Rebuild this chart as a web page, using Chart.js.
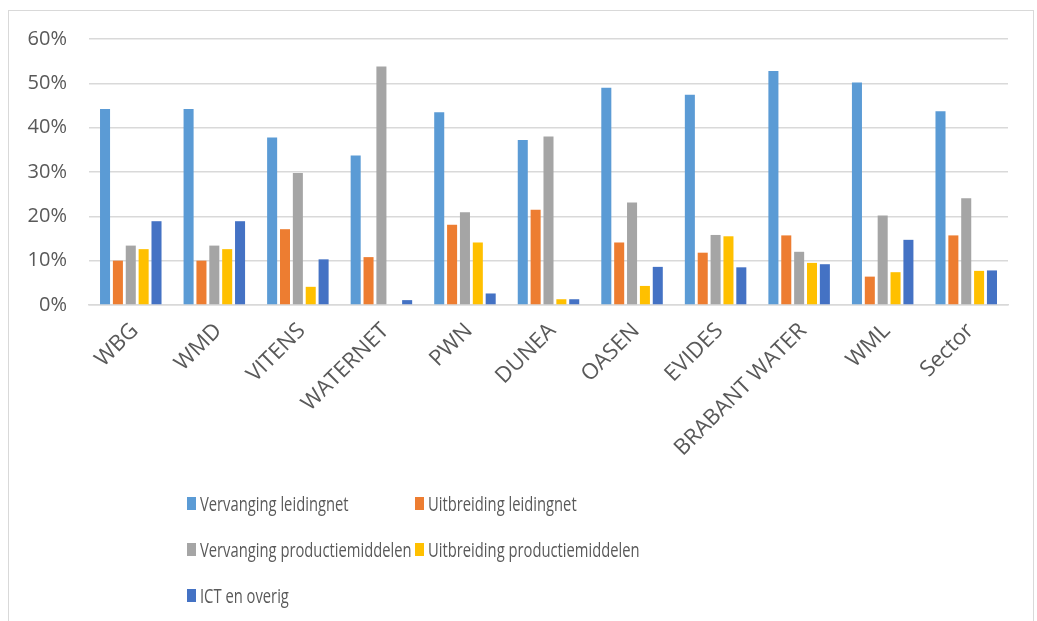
<!DOCTYPE html>
<html>
<head>
<meta charset="utf-8">
<script src="https://cdn.jsdelivr.net/npm/chart.js@4/dist/chart.umd.min.js"></script>
<style>
  html, body { margin: 0; padding: 0; background: #ffffff; }
  #wrap { position: relative; width: 1037px; height: 621px; overflow: hidden; }
  #frame { position: absolute; left: 8px; top: 10px; width: 1026px; height: 640px;
           border: 1px solid #d9d9d9; box-sizing: border-box; }
  canvas { position: absolute; left: 0; top: 0; }
</style>
</head>
<body>
<div id="wrap">
  <div id="frame"></div>
  <canvas id="c" width="1037" height="621"></canvas>
</div>
<script>
const categories = ["WBG", "WMD", "VITENS", "WATERNET", "PWN", "DUNEA", "OASEN", "EVIDES", "BRABANT WATER", "WML", "Sector"];
const seriesNames = ["Vervanging leidingnet", "Uitbreiding leidingnet", "Vervanging productiemiddelen", "Uitbreiding productiemiddelen", "ICT en overig"];
const vervangingLeidingnet      = [44.2, 44.2, 37.8, 33.7, 43.5, 37.2, 49.0, 47.4, 52.8, 50.2, 43.7];
const uitbreidingLeidingnet     = [10.0, 10.0, 17.1, 10.8, 18.1, 21.5, 14.1, 11.8, 15.7, 6.4, 15.7];
const vervangingProductie       = [13.4, 13.4, 29.8, 53.8, 20.9, 38.0, 23.1, 15.8, 12.0, 20.2, 24.1];
const uitbreidingProductie      = [12.6, 12.6, 4.1, 0.0, 14.1, 1.3, 4.3, 15.5, 9.5, 7.4, 7.7];
const ictEnOverig               = [18.9, 18.9, 10.3, 1.1, 2.6, 1.3, 8.6, 8.5, 9.2, 14.7, 7.8];
const yTicks = [0, 10, 20, 30, 40, 50, 60];

const colors = ["#5B9BD5", "#ED7D31", "#A5A5A5", "#FFC000", "#4472C4"];
const seriesValues = [vervangingLeidingnet, uitbreidingLeidingnet, vervangingProductie, uitbreidingProductie, ictEnOverig];

const FONT = "'Open Sans', 'Noto Sans', sans-serif";
const TEXT = "#595959";

const gridLegend = {
  id: 'gridLegend',
  afterDraw(chart) {
    const ctx = chart.ctx;
    const colX = [187, 415];
    const rowY = [497, 543, 589];
    ctx.save();
    chart.data.datasets.forEach((ds, i) => {
      const x = colX[i % 2];
      const y = rowY[Math.floor(i / 2)];
      ctx.fillStyle = ds.backgroundColor;
      ctx.fillRect(x, y, 9, 13);
      ctx.save();
      ctx.translate(x + 13, y + 13.5);
      ctx.scale(0.72, 1);
      ctx.font = "20.5px " + FONT;
      ctx.fillStyle = TEXT;
      ctx.textBaseline = 'alphabetic';
      ctx.textAlign = 'left';
      ctx.fillText(ds.label, 0, 0);
      ctx.restore();
    });
    ctx.restore();
  }
};

new Chart(document.getElementById('c'), {
  type: 'bar',
  data: {
    labels: categories,
    datasets: seriesNames.map((name, i) => ({
      label: name,
      data: seriesValues[i],
      backgroundColor: colors[i],
      borderWidth: 0,
      categoryPercentage: 0.77,
      barPercentage: 0.78
    }))
  },
  options: {
    responsive: false,
    animation: false,
    devicePixelRatio: 1,
    layout: { padding: { left: 8, right: 29, top: 39, bottom: 0 } },
    plugins: {
      legend: { display: false },
      tooltip: { enabled: false }
    },
    scales: {
      x: {
        grid: { display: false, drawTicks: false },
        border: { display: true, color: '#d9d9d9', width: 1.5 },
        ticks: {
          autoSkip: false,
          minRotation: 45,
          maxRotation: 45,
          padding: 13,
          labelOffset: 4,
          color: TEXT,
          font: { family: FONT, size: 22 }
        },
        afterFit(scale) { scale.height = 316; }
      },
      y: {
        min: 0,
        max: 60,
        afterBuildTicks(scale) { scale.ticks = yTicks.map(v => ({ value: v })); },
        grid: { color: '#d9d9d9', lineWidth: 1.5, drawTicks: false },
        border: { display: false },
        ticks: {
          padding: 22,
          color: TEXT,
          font: { family: FONT, size: 20 },
          callback: v => v + '%'
        },
        afterFit(scale) { scale.width = 81; }
      }
    }
  },
  plugins: [gridLegend]
});
</script>
</body>
</html>
